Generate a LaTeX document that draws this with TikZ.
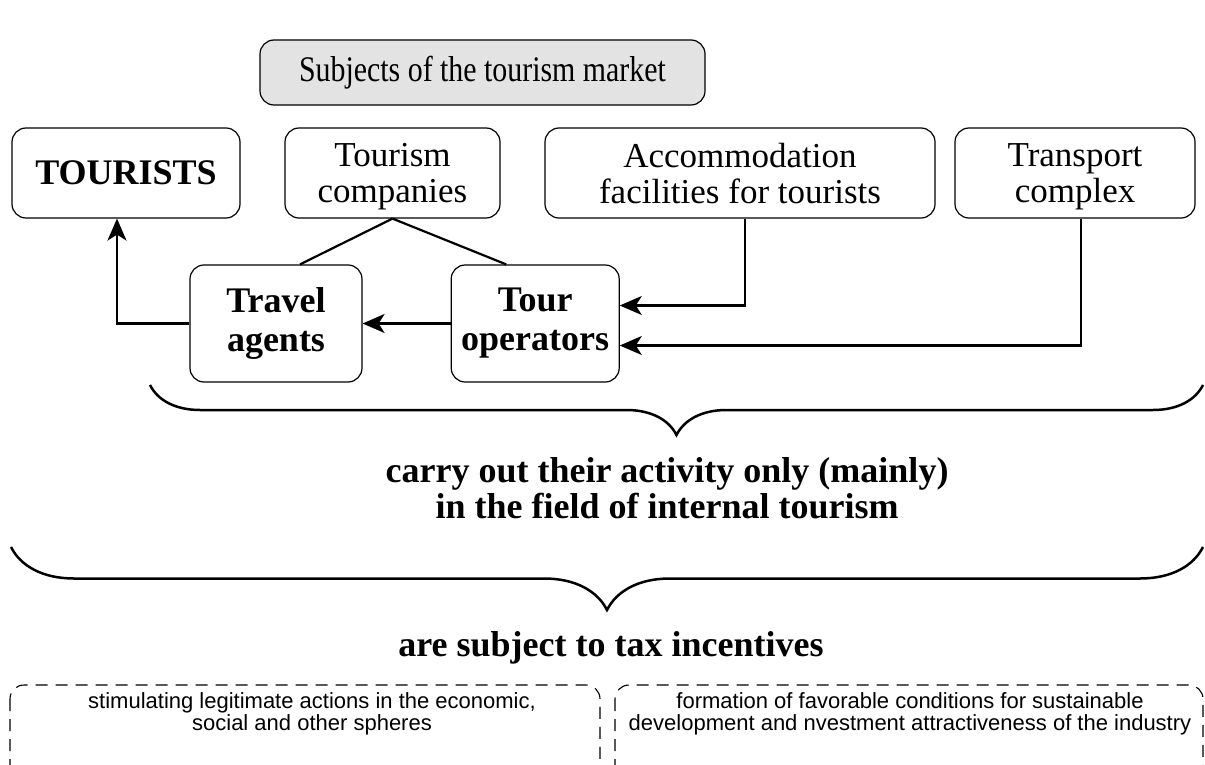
\documentclass[tikz,border=0pt]{standalone}
\usepackage{fontspec}
\setmainfont{Liberation Serif}
\setsansfont{Liberation Sans}
\newfontfamily\tallserif[FakeStretch=0.83]{Liberation Serif}
\usetikzlibrary{positioning,arrows.meta,decorations.pathreplacing}

\begin{document}
\begin{tikzpicture}[
                x=1pt, y=-1pt,
                box/.style={draw,rounded corners=14pt,line width=1.2pt,align=center,inner sep=0pt},
                plainbox/.style={box,font=\fontsize{35}{36}\selectfont,minimum height=90pt,text depth=0pt},
                boldbox/.style={box,font=\fontsize{36}{39}\selectfont\bfseries,minimum height=117pt},
                link/.style={line width=2.2pt},
                toarrow/.style={link,-{Stealth[length=22pt,width=19pt,inset=6pt]}},
                bigbrace/.style={decorate,decoration={brace,mirror,amplitude=#1},line width=2.5pt},
                dashbox/.style={draw,dash pattern=on 12pt off 8pt,line width=1.1pt,rounded corners=14pt},
                boldtext/.style={font=\fontsize{36}{36}\selectfont\bfseries,align=center},
                smalltext/.style={font=\sffamily\fontsize{22}{22}\selectfont,align=center}
            ]
                \useasboundingbox (0,0) rectangle (1205,765);
                \clip (0,0) rectangle (1205,765);
                % top row
                \node (subjects) [box,fill=gray!22,minimum width=445pt,minimum height=65pt,
                    font=\tallserif\fontsize{36}{36}\selectfont] at (482.5,72.5) {Subjects of the tourism market};
                \node (tourists) [plainbox,minimum width=228pt,font=\fontsize{36}{40}\selectfont\bfseries] at (126,173) {TOURISTS};
                \node (companies) [plainbox,minimum width=215pt] at (392.5,173) {Tourism\\companies};
                \node (accommodation) [plainbox,minimum width=390pt] at (740,173) {Accommodation\\facilities for tourists};
                \node (transport) [plainbox,minimum width=240pt] at (1075,173) {Transport\\complex};
                % middle row
                \node (agents) [boldbox,minimum width=172pt] at (276,323.5) {Travel\\agents};
                \node (operators) [boldbox,minimum width=168pt,right=88pt of agents] {Tour\\operators};
                \draw[link] (companies.south) -- ([xshift=24pt]agents.north);
                \draw[link] (companies.south) -- ([xshift=-29pt]operators.north);
                \draw[toarrow] (agents.west) -| ([xshift=-9pt]tourists.south);
                \draw[toarrow] (operators.west) -- (agents.east);
                \draw[toarrow] ([xshift=5pt]accommodation.south) |- ([yshift=18pt]operators.east);
                \draw[toarrow] ([xshift=6pt]transport.south) |- ([yshift=-22pt]operators.east);
                % braces
                \coordinate (brace1 west) at (150,385);
                \coordinate (brace1 east) at (1203,385);
                \coordinate (brace2 west) at (11,547);
                \coordinate (brace2 east) at (1203,547);
                \draw[bigbrace=50pt] (brace1 west) -- (brace1 east);
                \node (internal) [boldtext] at (667,488) {carry out their activity only (mainly)\\in the field of internal tourism};
                \draw[bigbrace=63pt] (brace2 west) -- (brace2 east);
                \node (incentives) [boldtext] at (611,648) {are subject to tax incentives};
                % bottom boxes
                \draw[dashbox] (10,685) rectangle (600,800);
                \draw[dashbox] (615,685) rectangle (1203,800);
                \node (stimulating) [smalltext] at (312,714) {stimulating legitimate actions in the economic,\\social and other spheres};
                \node (formation) [smalltext] at (910,714) {formation of favorable conditions for sustainable\\development and nvestment attractiveness of the industry};
            \end{tikzpicture}
\end{document}
